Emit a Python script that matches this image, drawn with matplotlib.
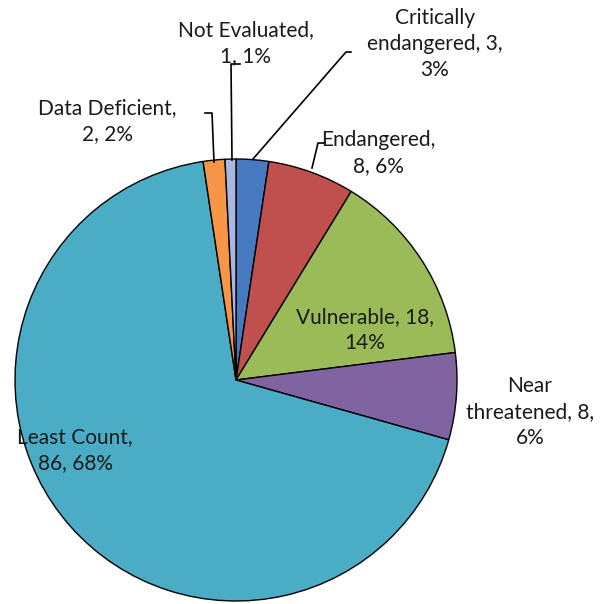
import matplotlib.pyplot as plt

# data
cats = ["Critically\nendangered", "Endangered", "Vulnerable", "Near\nthreatened",
        "Least Count", "Data Deficient", "Not Evaluated"]
counts = [3, 8, 18, 8, 86, 2, 1]
pct_labels = ["3%", "6%", "14%", "6%", "68%", "2%", "1%"]
colors = ["#4679C0", "#C0504D", "#9BBB59", "#8064A2", "#4BACC6", "#F79646", "#A7B9E0"]

plt.rcParams['font.family'] = ['Lato', 'DejaVu Sans']

W, H = 603, 604
fig = plt.figure(figsize=(W / 100, H / 100), dpi=100)
ax = fig.add_axes([0, 0, 1, 1])

cx, cy, r = 236, H - 380, 221
ax.pie(counts, colors=colors, startangle=90, counterclock=False,
       center=(cx, cy), radius=r, frame=True,
       wedgeprops=dict(edgecolor='black', linewidth=1.0))
ax.set_xlim(0, W)
ax.set_ylim(0, H)
ax.set_aspect('equal')
ax.axis('off')

texts = [
    "Critically\nendangered, %d,\n%s" % (counts[0], pct_labels[0]),
    "%s,\n%d, %s" % (cats[1], counts[1], pct_labels[1]),
    "%s, %d,\n%s" % (cats[2], counts[2], pct_labels[2]),
    "Near\nthreatened, %d,\n%s" % (counts[3], pct_labels[3]),
    "%s,\n%d, %s" % (cats[4], counts[4], pct_labels[4]),
    "%s,\n%d, %s" % (cats[5], counts[5], pct_labels[5]),
    "%s,\n%d, %s" % (cats[6], counts[6], pct_labels[6]),
]
pos = [(435, 44), (378, 153), (365, 330), (530, 412), (75, 450), (107, 121), (246, 43)]
for t, (x, y) in zip(texts, pos):
    ax.text(x, H - y, t, ha='center', va='center', fontsize=15,
            linespacing=1.38, color='#1a1a1a')

# leader lines
leaders = [
    [(253, 159), (346, 52), (351, 52)],
    [(312, 168), (318, 143), (325, 143)],
    [(214, 162), (212, 113), (205, 113)],
    [(232, 160), (231, 64), (240, 64)],
]
for pts in leaders:
    xs = [p[0] for p in pts]
    ys = [H - p[1] for p in pts]
    ax.plot(xs, ys, color='black', linewidth=1.2)

fig.savefig("out.png", dpi=100)
